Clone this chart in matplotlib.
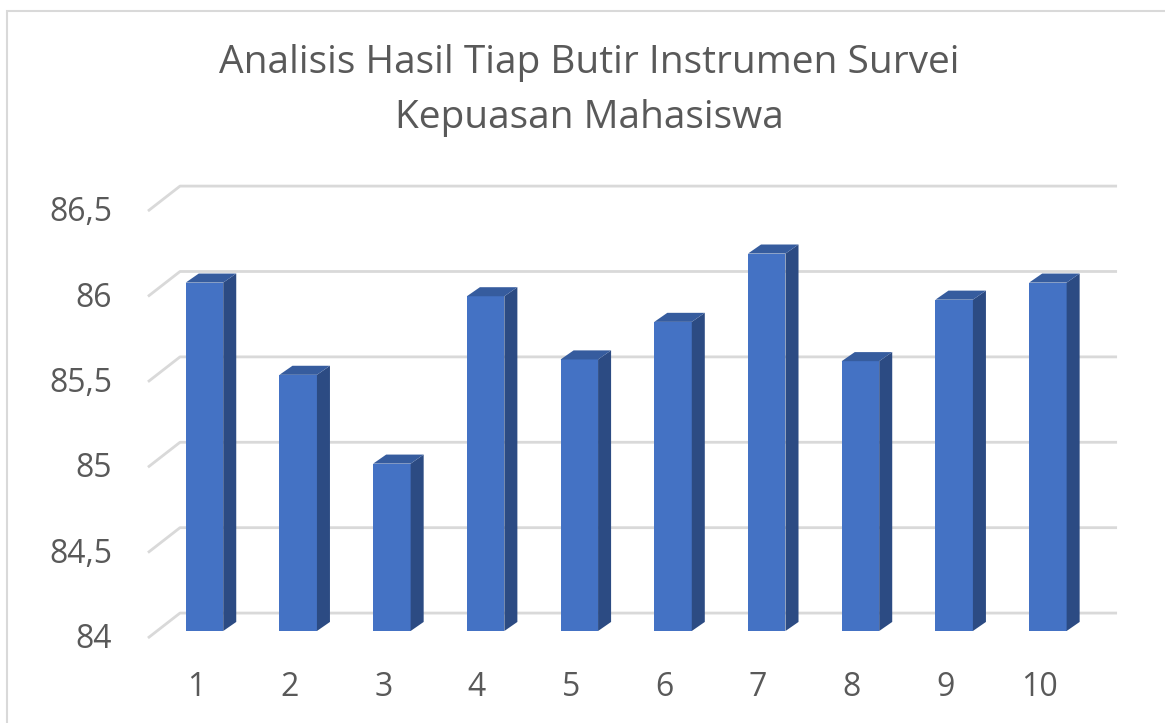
import numpy as np
import matplotlib.pyplot as plt
from matplotlib.patches import Polygon, Rectangle

# data
items = [1, 2, 3, 4, 5, 6, 7, 8, 9, 10]
scores = [86.04, 85.50, 84.98, 85.96, 85.59, 85.81, 86.21, 85.58, 85.94, 86.04]
y_ticks = [84, 84.5, 85, 85.5, 86, 86.5]
y_labels = ['84', '84,5', '85', '85,5', '86', '86,5']
title_lines = ['Analisis Hasil Tiap Butir Instrumen Survei', 'Kepuasan Mahasiswa']

base = 84
front_col = '#4472C4'
side_col = '#2C4B83'
top_col = '#365C9E'
grid_col = '#D9D9D9'
txt_col = '#595959'
font = 'Open Sans'

# fake 3d offsets, in data units
bar_w = 0.4
side_dx, side_dy = 0.139, 0.053     # depth of each bar
wall_dx, wall_dy = 0.25, 0.105      # back wall relative to bar fronts
floor_dx, floor_dy = -0.092, -0.041  # front edge of floor relative to bar fronts

W, H = 1165, 723
fig = plt.figure(figsize=(W / 100, H / 100), dpi=100)

# chart border
fig.patches.append(Rectangle((7 / W, -0.1), 1.2, (H - 11) / H + 0.1, transform=fig.transFigure,
                             fill=False, ec=grid_col, lw=1.5))

ax_l, ax_r, ax_t, ax_b = 140, 1125, 175, 645
ax = fig.add_axes([ax_l / W, (H - ax_b) / H, (ax_r - ax_l) / W, (ax_b - ax_t) / H])
ax.set_xlim(0.312, 10.823)
ax.set_ylim(83.918, 86.670)
ax.axis('off')

# gridlines: back wall + diagonal stubs on the side wall
x0 = min(items) - 0.5 + wall_dx - 0.011
x1 = max(items) + 0.5 + wall_dx - 0.012
xs = min(items) - 0.5 + floor_dx - 0.011
for v in y_ticks:
    ax.plot([xs, x0, x1], [v + floor_dy, v + wall_dy, v + wall_dy],
            color=grid_col, lw=2, zorder=1, solid_capstyle='butt')
for v, lab in zip(y_ticks, y_labels):
    ax.text(0.013, v + floor_dy - 0.01, lab, ha='right', va='center',
            fontsize=23, color=txt_col, family=font)

# bars: front face through ax.bar, side + top as polygons
ax.bar(items, np.array(scores) - base, bottom=base, width=bar_w, color=front_col, zorder=3)
for x, v in zip(items, scores):
    r = x + bar_w / 2
    l = x - bar_w / 2
    ax.add_patch(Polygon([(r, base), (r + side_dx, base + side_dy), (r + side_dx, v + side_dy), (r, v)],
                         closed=True, fc=side_col, ec='none', zorder=3))
    ax.add_patch(Polygon([(l, v), (r, v), (r + side_dx, v + side_dy), (l + side_dx, v + side_dy)],
                         closed=True, fc=top_col, ec='none', zorder=3))
    ax.text(x + floor_dx, 83.672, str(x), ha='center', va='center',
            fontsize=23, color=txt_col, family=font)

# title
fig.text(589 / W, 1 - 73 / H, title_lines[0], ha='center', va='baseline',
         fontsize=28, color=txt_col, family=font)
fig.text(589 / W, 1 - 128 / H, title_lines[1], ha='center', va='baseline',
         fontsize=28, color=txt_col, family=font)

fig.savefig('out.png', dpi=100, facecolor='white')
